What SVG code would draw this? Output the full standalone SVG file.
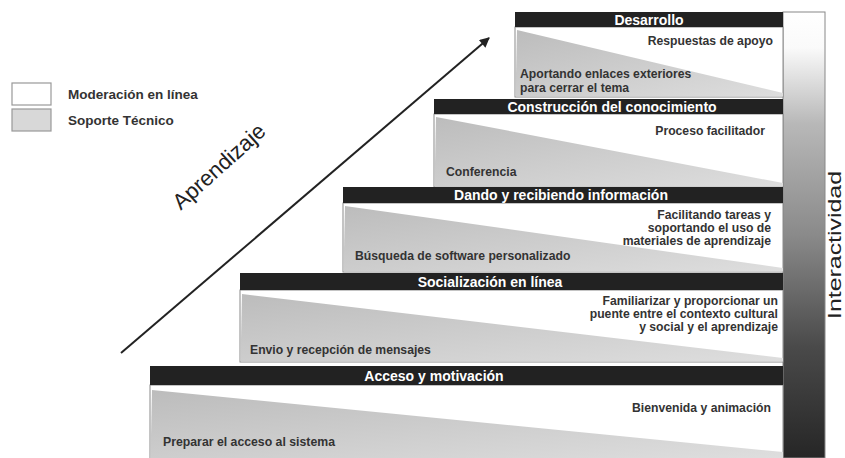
<svg xmlns="http://www.w3.org/2000/svg" width="845" height="458" viewBox="0 0 845 458">
<defs>
<linearGradient id="wedge" x1="0" y1="0" x2="1" y2="1">
<stop offset="0" stop-color="#bcbcbc"/>
<stop offset="1" stop-color="#dedede"/>
</linearGradient>
<linearGradient id="inter" x1="0" y1="0" x2="0" y2="1">
<stop offset="0" stop-color="#ffffff"/>
<stop offset="0.08" stop-color="#fafafa"/>
<stop offset="0.25" stop-color="#b8b8b8"/>
<stop offset="0.5" stop-color="#8a8a8a"/>
<stop offset="0.75" stop-color="#4a4a4a"/>
<stop offset="1" stop-color="#262626"/>
</linearGradient>
<marker id="arr" viewBox="0 0 10 10" refX="9" refY="5" markerWidth="13" markerHeight="10" markerUnits="userSpaceOnUse" orient="auto">
<path d="M0,0 L10,5 L0,10 z" fill="#222"/>
</marker>
</defs>
<style>
.body{fill:#fff;stroke:#8a8a8a;stroke-width:1}
.hdr{fill:#222}
.wedge{fill:url(#wedge)}
.ht{font-family:"Liberation Sans",Arial,sans-serif;font-weight:bold;font-size:14px;fill:#fff;text-anchor:middle}
.bt{font-family:"Liberation Sans",Arial,sans-serif;font-weight:bold;font-size:12.2px;fill:#333}
.r{text-anchor:end}
.lg{font-family:"Liberation Sans",Arial,sans-serif;font-weight:bold;font-size:13.5px;fill:#333}
</style>
<rect width="845" height="458" fill="#fff"/>

<g id="legend">
<rect x="12" y="83" width="39" height="22" fill="#fff" stroke="#999" stroke-width="1.2"/>
<rect x="12" y="109" width="39" height="22" fill="#d8d8d8" stroke="#999" stroke-width="1.2"/>
<text class="lg" x="68" y="99">Moderación en línea</text>
<text class="lg" x="68" y="125">Soporte Técnico</text>
</g>

<g id="interactividad">
<rect x="783" y="12" width="42" height="446" fill="url(#inter)" stroke="#888" stroke-width="1"/>
<text x="0" y="0" transform="translate(841,245) rotate(-90)" font-family="Liberation Sans,Arial,sans-serif" font-size="19" fill="#222" text-anchor="middle" textLength="148" lengthAdjust="spacingAndGlyphs">Interactividad</text>
</g>

<g id="connectors">
<line x1="121" y1="353" x2="489" y2="38" stroke="#222" stroke-width="2" marker-end="url(#arr)"/>
</g>
<g id="aprendizaje">
<text x="0" y="0" transform="translate(224,172) rotate(-42)" font-family="Liberation Sans,Arial,sans-serif" font-size="22" fill="#222" text-anchor="middle">Aprendizaje</text>
</g>

<g id="desarrollo">
<rect class="body" x="515" y="27" width="268" height="70"/>
<polygon class="wedge" points="517,30 783,93 783,96.5 515.5,96.5"/>
<rect class="hdr" x="515" y="12" width="268" height="15"/>
<text class="ht" x="649" y="24.5">Desarrollo</text>
<text class="bt r" x="773" y="45">Respuestas de apoyo</text>
<text class="bt" x="520" y="78">Aportando enlaces exteriores</text>
<text class="bt" x="520" y="92">para cerrar el tema</text>
</g>

<g id="construccion">
<rect class="body" x="434" y="114" width="349" height="73"/>
<polygon class="wedge" points="436,117 783,183 783,186.5 434.5,186.5"/>
<rect class="hdr" x="434" y="99" width="349" height="15"/>
<text class="ht" x="612" y="111.5">Construcción del conocimiento</text>
<text class="bt r" x="765" y="135">Proceso facilitador</text>
<text class="bt" x="446" y="176">Conferencia</text>
</g>

<g id="dando">
<rect class="body" x="343" y="203" width="440" height="69"/>
<polygon class="wedge" points="345,206 783,268 783,271.5 343.5,271.5"/>
<rect class="hdr" x="343" y="187" width="440" height="16"/>
<text class="ht" x="561" y="200">Dando y recibiendo información</text>
<text class="bt r" x="771" y="219">Facilitando tareas y</text>
<text class="bt r" x="771" y="232">soportando el uso de</text>
<text class="bt r" x="771" y="245">materiales de aprendizaje</text>
<text class="bt" x="355" y="260">Búsqueda de software personalizado</text>
</g>

<g id="socializacion">
<rect class="body" x="240" y="290" width="543" height="72"/>
<polygon class="wedge" points="242,294 783,358 783,361.5 240.5,361.5"/>
<rect class="hdr" x="240" y="273" width="543" height="17"/>
<text class="ht" x="490" y="286.5">Socialización en línea</text>
<text class="bt r" x="778" y="305">Familiarizar y proporcionar un</text>
<text class="bt r" x="778" y="318">puente entre el contexto cultural</text>
<text class="bt r" x="778" y="331">y social y el aprendizaje</text>
<text class="bt" x="250" y="354">Envio y recepción de mensajes</text>
</g>

<g id="acceso">
<rect class="body" x="150" y="385" width="633" height="80"/>
<polygon class="wedge" points="152,390 783,452 783,458 150.5,458"/>
<rect class="hdr" x="150" y="366" width="633" height="19"/>
<text class="ht" x="434" y="381">Acceso y motivación</text>
<text class="bt r" x="771" y="412" textLength="139" lengthAdjust="spacingAndGlyphs">Bienvenida y animación</text>
<text class="bt" x="163" y="446" textLength="172" lengthAdjust="spacingAndGlyphs">Preparar el acceso al sistema</text>
</g>
</svg>
